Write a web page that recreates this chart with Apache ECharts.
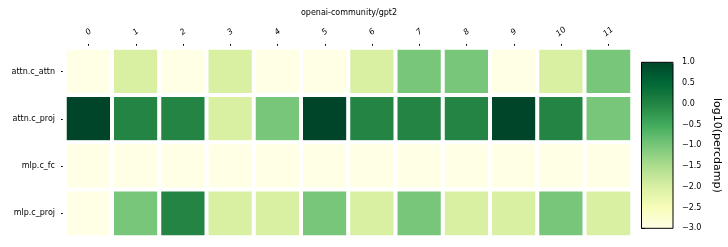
<!DOCTYPE html>
<html>
<head>
<meta charset="utf-8">
<script src="https://cdn.jsdelivr.net/npm/echarts@6/dist/echarts.min.js"></script>
<style>
html,body{margin:0;padding:0;background:#fff;}
#main{width:728px;height:247px;}
</style>
</head>
<body>
<div id="main"></div>
<script>
var layers = ['0','1','2','3','4','5','6','7','8','9','10','11'];
var modules = ['attn.c_attn','attn.c_proj','mlp.c_fc','mlp.c_proj'];
var attnCAttn = [-3,-2,-3,-2,-3,-3,-2,-1,-1,-3,-2,-1];
var attnCProj = [1,0,0,-2,-1,1,0,0,0,1,0,-1];
var mlpCFc    = [-3,-3,-3,-3,-3,-3,-3,-3,-3,-3,-3,-3];
var mlpCProj  = [-3,-1,0,-2,-2,-1,-2,-1,-2,-2,-1,-2];
var colorbarTicks = [-3,-2.5,-2,-1.5,-1,-0.5,0,0.5,1];
var ylgn = ['#ffffe5','#f7fcb9','#d9f0a3','#addd8e','#78c679','#41ab5d','#238443','#006837','#004529'];

var rowsData = [attnCAttn, attnCProj, mlpCFc, mlpCProj];
var cells = [];
rowsData.forEach(function(r, yi){
  r.forEach(function(v, xi){ cells.push([xi, yi, v]); });
});

var FONT = 'DejaVu Sans';
var chart = echarts.init(document.getElementById('main'), null, {renderer:'canvas'});
chart.setOption({
  animation: false,
  backgroundColor: '#fff',
  textStyle: {fontFamily: FONT},
  title: {
    text: 'openai-community/gpt2',
    left: 349, top: 9, padding: 0,
    textAlign: 'center',
    textStyle: {fontSize: 8, fontWeight: 'normal', color: '#000', fontFamily: FONT}
  },
  grid: [
    {left: 65, top: 48, width: 567, height: 189, containLabel: false},
    {left: 641.5, top: 62.3, width: 31.5, height: 166, show: true, z: 10,
     borderColor: '#000', borderWidth: 1, backgroundColor: 'transparent'}
  ],
  xAxis: [
    {type: 'category', gridIndex: 0, data: layers, position: 'top',
     axisLine: {show: false},
     axisTick: {show: true, alignWithLabel: true, length: 4, lineStyle: {color: '#000'}},
     axisLabel: {rotate: -40, fontSize: 8, color: '#000', margin: 16, align: 'center', verticalAlign: 'middle', fontFamily: FONT, fontStyle: 'italic'},
     splitLine: {show: false}},
    {type: 'value', gridIndex: 1, show: false, min: 0, max: 1}
  ],
  yAxis: [
    {type: 'category', gridIndex: 0, data: modules, inverse: true,
     axisLine: {show: false},
     axisTick: {show: true, alignWithLabel: true, length: 4, lineStyle: {color: '#000'}},
     axisLabel: {fontSize: 8, color: '#000', margin: 10, fontFamily: FONT},
     splitLine: {show: false}},
    {type: 'value', gridIndex: 1, position: 'right', min: colorbarTicks[0], max: colorbarTicks[colorbarTicks.length-1], interval: 0.5,
     axisLine: {show: false},
     axisTick: {show: true, length: 3.5, lineStyle: {color: '#000'}},
     splitLine: {show: false},
     axisLabel: {fontSize: 8, color: '#000', margin: 9, fontFamily: FONT,
       formatter: function(v){ return v.toFixed(1).replace('-', '\u2212'); }},
     name: 'log10(percdamp)', nameLocation: 'middle', nameRotate: -90, nameGap: 38,
     nameTextStyle: {fontSize: 11, color: '#000', fontFamily: FONT}}
  ],
  visualMap: {
    type: 'continuous', min: -3, max: 1, seriesIndex: 0,
    calculable: false, orient: 'vertical',
    left: 641.5, top: 62.3, padding: 0,
    itemWidth: 31.5, itemHeight: 166,
    inRange: {color: ylgn},
    hoverLink: false
  },
  series: [{
    type: 'heatmap', xAxisIndex: 0, yAxisIndex: 0,
    data: cells,
    itemStyle: {borderColor: '#fff', borderWidth: 4},
    emphasis: {disabled: true},
    label: {show: false}
  }]
});
</script>
</body>
</html>
